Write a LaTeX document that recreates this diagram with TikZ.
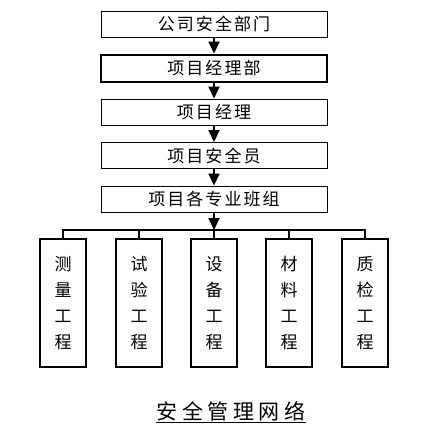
\documentclass[tikz,border=0pt]{standalone}
\usepackage{fontspec}
\newfontfamily\cjk[LetterSpace=12]{Noto Sans CJK SC}
\usetikzlibrary{positioning,arrows.meta}

\begin{document}
\begin{tikzpicture}[
      x=1pt, y=-1pt,
      node distance=16pt,
      every node/.style={font=\cjk\fontsize{17}{26}\selectfont, inner sep=0pt},
      level/.style={draw, line width=1pt, minimum width=226pt, minimum height=26pt},
      team/.style={draw, line width=1.5pt, minimum width=46pt, minimum height=128pt, align=center},
      arrow/.style={-{Triangle[width=11pt,length=12pt]}, line width=2pt},
      bus/.style={line width=2pt}
    ]
    \useasboundingbox (0,0) rectangle (445,434);
    \node[level] (a) at (214,24) {公司安全部门};
    \node[level, line width=2pt, minimum height=27pt] (b) [below=of a] {项目经理部};
    \node[level] (c) [below=of b] {项目经理};
    \node[level] (d) [below=16.5pt of c] {项目安全员};
    \node[level] (e) [below=16.5pt of d] {项目各专业班组};
    \draw[arrow] (a) -- (b);
    \draw[arrow] (b) -- (c);
    \draw[arrow] (c) -- (d);
    \draw[arrow] (d) -- (e);
    % work teams
    \node[team] (t1) at (63,303)  {测\\量\\工\\程};
    \node[team] (t2) at (139,303) {试\\验\\工\\程};
    \node[team] (t3) at (214,303) {设\\备\\工\\程};
    \node[team] (t4) at (289,303) {材\\料\\工\\程};
    \node[team] (t5) at (365,303) {质\\检\\工\\程};
    \coordinate (bus) at (214,230);
    \draw[bus] (t1.north) |- (bus) -| (t5.north);
    \draw[bus] (t2.north) -- (t2.north |- bus);
    \draw[bus] (t3.north) -- (bus);
    \draw[bus] (t4.north) -- (t4.north |- bus);
    \draw[arrow] (e) -- (bus);
    \node[font=\cjk\fontsize{21}{24}\selectfont\addfontfeature{LetterSpace=22}] (title) at (231,412) {\underline{安全管理网络}};
  \end{tikzpicture}
\end{document}
